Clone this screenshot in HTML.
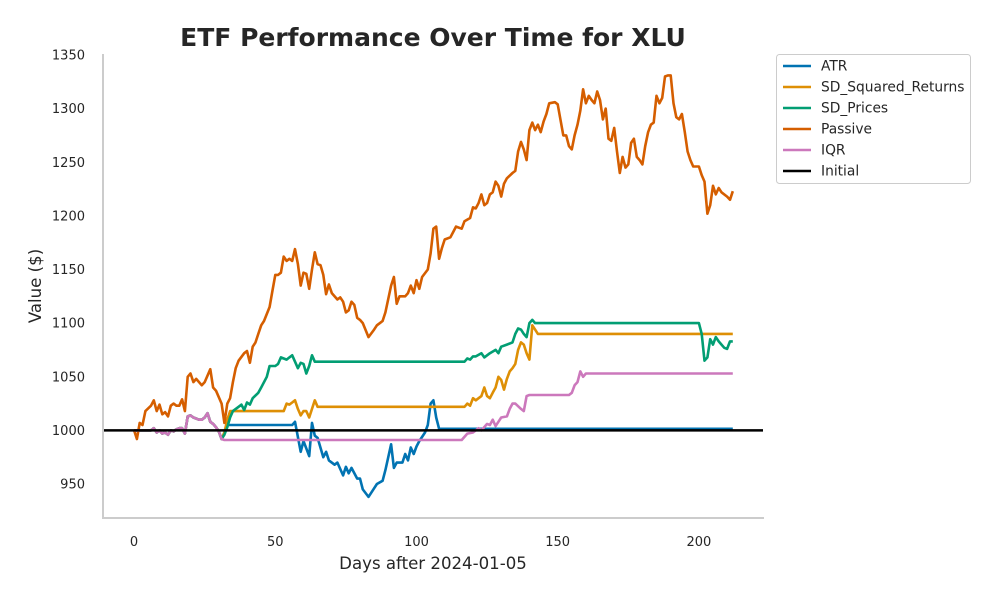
<!DOCTYPE html>
<html><head><meta charset="utf-8"><style>
body{margin:0;background:#fff;font-family:"Liberation Sans","DejaVu Sans",sans-serif}
svg text{font-family:"DejaVu Sans","Liberation Sans",sans-serif}
</style></head><body>
<svg id="chart" width="1000" height="600" xmlns="http://www.w3.org/2000/svg">
<text x="433" y="46" text-anchor="middle" font-size="25" font-weight="bold" fill="#262626">ETF Performance Over Time for XLU</text>
<text x="433" y="569" text-anchor="middle" font-size="16.6" fill="#262626">Days after 2024-01-05</text>
<text transform="translate(41,286) rotate(-90)" text-anchor="middle" font-size="16.6" fill="#262626">Value ($)</text>
<g id="grid"></g>
<g id="series"></g>
<line x1="103" y1="54" x2="103" y2="519" stroke="#cccccc" stroke-width="2"/>
<line x1="102" y1="518" x2="764" y2="518" stroke="#cccccc" stroke-width="2"/>
<g id="legend">
<rect x="776.5" y="54.5" width="194" height="129" rx="3" fill="#fff" stroke="#cccccc"/>
</g>
</svg>
<script>
const xTicks=[0,50,100,150,200];
const yTicks=[950,1000,1050,1100,1150,1200,1250,1300,1350];
const seriesNames=["ATR","SD_Squared_Returns","SD_Prices","Passive","IQR","Initial"];
const seriesColors=["#0173b2","#de8f05","#029e73","#d55e00","#cc78bc","#000000"];
const clusterDays=[0,1,2,3,4,5,6,7,8,9,10,11,12,13,14,15,16,17,18,19,20,21,22,23,24,25,26,27,28,29,30,31];
const clusterVals=[1000,1000,1000,1000,1000,1000,1000,1002,998,1000,997,998,996,1000,999,1001,1002,1002,997,1013,1014,1012,1011,1010,1010,1012,1016,1008,1006,1003,999,992];
const atrDays=[32,33,56,57,59,60,62,63,64,65,67,68,69,71,72,74,75,76,77,79,80,81,83,85,86,88,89,91,92,93,95,96,97,98,99,100,101,103,104,105,106,107,108,212];
const atrVals=[998,1005,1005,1008,980,990,976,1007,995,993,975,980,972,968,970,958,966,960,965,955,955,945,938,946,950,953,963,987,965,970,970,978,972,984,978,985,990,998,1005,1025,1028,1012,1001.5,1001.5];
const sqDays=[32,33,34,53,54,55,56,57,58,59,60,61,62,63,64,65,117,118,119,120,121,123,124,125,126,127,128,129,130,131,132,133,134,135,136,137,138,139,140,141,142,143,212];
const sqVals=[998,1010,1018,1018,1025,1024,1026,1028,1020,1014,1018,1018,1012,1020,1028,1022,1022,1025,1023,1030,1028,1032,1040,1032,1030,1035,1040,1050,1047,1038,1048,1055,1058,1062,1075,1082,1080,1072,1066,1098,1094,1090,1090];
const sdpDays=[32,33,34,35,37,38,39,40,41,42,44,45,47,48,50,51,52,54,55,56,58,59,60,61,62,63,64,117,118,119,120,121,123,124,126,128,129,130,132,134,135,136,137,138,139,140,141,142,200,201,202,203,204,205,206,207,208,209,210,211,212];
const sdpVals=[996,1003,1012,1018,1022,1024,1019,1026,1024,1030,1035,1040,1050,1060,1060,1062,1068,1066,1068,1070,1058,1063,1062,1053,1060,1070,1064,1064,1067,1066,1069,1069,1072,1068,1072,1075,1072,1078,1080,1082,1090,1095,1094,1090,1087,1100,1103,1100,1100,1090,1065,1068,1085,1080,1087,1083,1080,1077,1076,1083,1083];
const iqrDays=[32,116,118,120,122,123,125,126,127,128,129,130,132,133,134,135,137,138,139,140,154,155,156,157,158,159,160,212];
const iqrVals=[991,991,997,998,1002,1000,1006,1005,1010,1004,1008,1012,1013,1020,1025,1025,1020,1018,1032,1033,1033,1035,1042,1045,1055,1050,1053,1053];
const passiveDays=[0,1,2,3,4,6,7,8,9,10,11,12,13,14,15,16,17,18,19,20,21,22,24,25,27,28,29,31,32,33,34,35,36,37,39,40,41,42,43,44,45,46,48,49,50,51,52,53,54,55,56,57,58,59,60,61,62,63,64,65,66,67,68,69,70,72,73,74,75,76,77,78,79,80,81,83,85,86,88,89,91,92,93,94,96,97,98,99,100,101,102,104,105,106,107,108,109,110,112,113,114,116,117,119,120,121,122,123,124,125,126,127,128,129,130,131,132,134,135,136,137,138,139,140,141,142,143,144,145,146,147,149,150,152,153,154,155,156,157,158,159,160,161,162,163,164,165,166,167,168,169,170,171,172,173,174,175,176,177,178,179,180,181,182,183,184,185,186,187,188,189,190,191,192,193,194,195,196,197,198,200,201,202,203,204,205,206,207,208,210,211,212];
const passiveVals=[1000,992,1007,1005,1018,1023,1028,1018,1024,1015,1017,1013,1023,1025,1023,1023,1029,1018,1050,1053,1045,1048,1042,1045,1057,1040,1037,1025,1007,1025,1030,1045,1058,1065,1072,1074,1063,1078,1082,1090,1098,1102,1115,1130,1145,1145,1147,1162,1158,1160,1158,1169,1155,1135,1147,1146,1132,1150,1166,1155,1154,1145,1127,1136,1128,1122,1124,1120,1110,1112,1120,1117,1105,1103,1100,1087,1094,1098,1102,1110,1135,1143,1118,1125,1125,1128,1135,1128,1140,1132,1143,1150,1165,1188,1190,1160,1170,1178,1180,1185,1190,1188,1195,1198,1208,1207,1212,1220,1210,1212,1220,1222,1232,1228,1218,1230,1235,1240,1242,1260,1269,1262,1252,1280,1287,1280,1285,1278,1288,1295,1305,1306,1304,1275,1275,1265,1262,1275,1285,1298,1318,1305,1312,1308,1305,1316,1308,1290,1300,1272,1270,1282,1260,1240,1255,1245,1248,1268,1272,1255,1252,1248,1265,1278,1285,1287,1312,1305,1310,1330,1331,1331,1305,1292,1290,1295,1278,1260,1252,1246,1246,1238,1232,1202,1210,1228,1220,1226,1222,1218,1215,1223];
const initialValue=1000;

const X0=-11,X1=222.7,PX0=103,PX1=763;
const Y0=918.3,Y1=1350,PY0=518,PY1=55;
function xs(d){return PX0+(d-X0)/(X1-X0)*(PX1-PX0);}
function ys(v){return PY0-(v-Y0)/(Y1-Y0)*(PY0-PY1);}
const NS="http://www.w3.org/2000/svg";
const grid=document.getElementById('grid');
const ser=document.getElementById('series');
function mk(tag,attrs,parent){const e=document.createElementNS(NS,tag);for(const k in attrs)e.setAttribute(k,attrs[k]);parent.appendChild(e);return e;}
xTicks.forEach(t=>{
  const e=mk('text',{x:xs(t),y:546,'text-anchor':'middle','font-size':13,fill:'#262626'},grid);
  e.textContent=t;
  
  
});
yTicks.forEach(t=>{
  const e=mk('text',{x:85,y:ys(t)+4.5,'text-anchor':'end','font-size':13,fill:'#262626'},grid);
  e.textContent=t;
  
  
});
function pts(days,vals){return days.map((d,i)=>xs(d).toFixed(1)+','+ys(vals[i]).toFixed(1)).join(' ');}
function drawSeries(name,color,days,vals){
  const allD=clusterDays.concat(days), allV=clusterVals.concat(vals);
  const p=mk('polyline',{points:pts(allD,allV),fill:'none',stroke:color,'stroke-width':2.6,'stroke-linejoin':'round'},ser);
  
  
}
drawSeries('atr',seriesColors[0],atrDays,atrVals);
drawSeries('sd-squared-returns',seriesColors[1],sqDays,sqVals);
drawSeries('sd-prices',seriesColors[2],sdpDays,sdpVals);
const pl=mk('polyline',{points:pts(passiveDays,passiveVals),fill:'none',stroke:seriesColors[3],'stroke-width':2.6,'stroke-linejoin':'round'},ser);


drawSeries('iqr',seriesColors[4],iqrDays,iqrVals);
const il=mk('line',{x1:PX0,x2:PX1,y1:ys(initialValue),y2:ys(initialValue),stroke:'#000','stroke-width':2.6},ser);


const lg=document.getElementById('legend');
seriesNames.forEach((n,i)=>{
  const y=66+i*21;
  const l=mk('line',{x1:783,x2:811,y1:y,y2:y,stroke:seriesColors[i],'stroke-width':2.6},lg);
  
  
  const t=mk('text',{x:821,y:y+4.5,'font-size':13.8,fill:'#262626'},lg);
  t.textContent=n;
  
  
});
</script>
</body></html>
